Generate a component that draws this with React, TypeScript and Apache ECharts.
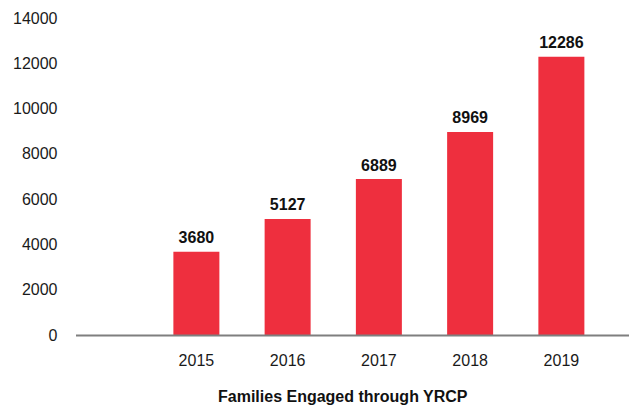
import React, { useEffect, useRef } from "react";
import * as echarts from "echarts";

const years = ["2015", "2016", "2017", "2018", "2019"];
const families = [3680, 5127, 6889, 8969, 12286];
const yTicks = { min: 0, max: 14000, interval: 2000 };
const chartTitle = "Families Engaged through YRCP";

const FONT = "'Liberation Sans', Arial, sans-serif";
const RED = "#EE2F3E";

export default function App() {
  const ref = useRef<HTMLDivElement>(null);
  useEffect(() => {
    if (!ref.current) return;
    const chart = echarts.init(ref.current, undefined, { renderer: "svg" });
    chart.setOption({
      animation: false,
      backgroundColor: "#ffffff",
      textStyle: { fontFamily: FONT },
      grid: { left: 59.5, right: 25, top: 18, bottom: 75, containLabel: false },
      title: {
        text: chartTitle,
        left: 218,
        top: 388,
        padding: 0,
        textStyle: { fontFamily: FONT, fontSize: 16, fontWeight: "bold", color: "#111111" },
      },
      xAxis: {
        type: "category",
        data: ["", ...years],
        axisLine: { show: false },
        axisTick: { show: false },
        axisLabel: { fontFamily: FONT, fontSize: 16, color: "#1a1a1a", margin: 17 },
        splitLine: { show: false },
      },
      yAxis: {
        type: "value",
        min: yTicks.min,
        max: yTicks.max,
        interval: yTicks.interval,
        axisLine: { show: false },
        axisTick: { show: false },
        splitLine: { show: false },
        axisLabel: {
          fontFamily: FONT,
          fontSize: 16,
          color: "#1a1a1a",
          margin: 2,
          formatter: (v: number) => String(v),
        },
      },
      graphic: [
        {
          type: "line",
          shape: { x1: 76, y1: 335.5, x2: 629, y2: 335.5 },
          style: { stroke: "#7f7f7f", lineWidth: 2 },
          z: 10,
        },
      ],
      series: [
        {
          type: "bar",
          data: [null, ...families],
          barWidth: 46,
          itemStyle: { color: RED },
          label: {
            show: true,
            position: "top",
            distance: 6,
            fontFamily: FONT,
            fontSize: 16,
            fontWeight: "bold",
            color: "#111111",
          },
        },
      ],
    });
    return () => chart.dispose();
  }, []);
  return <div ref={ref} style={{ width: 632, height: 410, position: "absolute", left: 0, top: 0 }} />;
}
